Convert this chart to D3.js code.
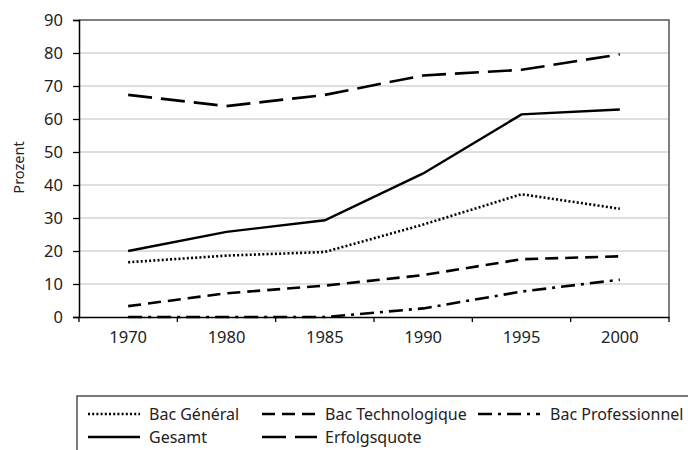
<!DOCTYPE html>
<html>
<head>
<meta charset="utf-8">
<script src="https://cdn.jsdelivr.net/npm/d3@7"></script>
<style>
  body { margin: 0; background: #fff; }
  svg { font-family: 'Noto Sans', sans-serif; }
</style>
</head>
<body>
<script>
// data
var years = ["1970", "1980", "1985", "1990", "1995", "2000"];
var bacGeneral = [16.6, 18.6, 19.7, 28.0, 37.2, 32.8];
var bacTechno = [3.3, 7.2, 9.5, 12.7, 17.5, 18.4];
var bacPro = [0, 0, 0, 2.6, 7.7, 11.3];
var gesamt = [20.0, 25.8, 29.3, 43.5, 61.4, 62.9];
var erfolg = [67.3, 63.9, 67.3, 73.2, 74.9, 79.6];
var yTicks = [0, 10, 20, 30, 40, 50, 60, 70, 80, 90];

var series = [
  { name: "Bac Général", values: bacGeneral, dash: "2,2.2", width: 2.6 },
  { name: "Bac Technologique", values: bacTechno, dash: "13,7", width: 2.6 },
  { name: "Bac Professionnel", values: bacPro, dash: "14,6,3,6", width: 2.6 },
  { name: "Gesamt", values: gesamt, dash: null, width: 2.4 },
  { name: "Erfolgsquote", values: erfolg, dash: "24,9", width: 2.6 }
];

var W = 688, H = 450;
var margin = { top: 20, right: 19, bottom: 133, left: 79 },
  width = W - margin.left - margin.right,
  height = H - margin.top - margin.bottom;

var svg = d3.select("body").append("svg")
  .attr("width", W)
  .attr("height", H);

var g = svg.append("g")
  .attr("transform", "translate(" + margin.left + "," + margin.top + ")");

var x = d3.scaleBand().domain(years).range([0, width]);
var y = d3.scaleLinear().domain([0, 90]).range([height, 0]);

// gridlines
g.selectAll("line.grid")
  .data(yTicks.filter(d => d > 0 && d < 90))
  .enter().append("line")
  .attr("class", "grid")
  .attr("x1", 0).attr("x2", width)
  .attr("y1", d => y(d)).attr("y2", d => y(d))
  .attr("stroke", "#d4d4d4")
  .attr("stroke-width", 1.3);

// plot frame (top + right)
g.append("path")
  .attr("d", "M0," + y(90) + "H" + width + "V" + height)
  .attr("fill", "none")
  .attr("stroke", "#555")
  .attr("stroke-width", 1.5);

// y axis
var yAxis = g.append("g")
  .call(d3.axisLeft(y).tickValues(yTicks).tickSize(6).tickPadding(10));
yAxis.select(".domain").attr("stroke", "#000").attr("stroke-width", 1.5);
yAxis.selectAll(".tick line").attr("stroke", "#000").attr("stroke-width", 1.3);
yAxis.selectAll("text").attr("font-size", 16.5).attr("fill", "#222")
  .attr("font-family", "'Noto Sans', sans-serif");

// x axis, ticks at band edges
var xAxis = g.append("g")
  .attr("transform", "translate(0," + height + ")")
  .call(d3.axisBottom(x).tickSize(0).tickPadding(14));
xAxis.select(".domain").attr("stroke", "#000").attr("stroke-width", 1.5);
xAxis.selectAll("text").attr("font-size", 16.5).attr("fill", "#222")
  .attr("font-family", "'Noto Sans', sans-serif");
xAxis.selectAll("line.edge")
  .data(years.concat(["end"]))
  .enter().append("line")
  .attr("class", "edge")
  .attr("x1", (d, i) => i * x.step()).attr("x2", (d, i) => i * x.step())
  .attr("y1", 0).attr("y2", 5)
  .attr("stroke", "#000").attr("stroke-width", 1.3);

// y label
svg.append("text")
  .attr("transform", "translate(24," + (margin.top + height / 2 - 1) + ") rotate(-90)")
  .attr("text-anchor", "middle")
  .attr("font-size", 14.5)
  .attr("fill", "#222")
  .text("Prozent");

// lines
var line = d3.line()
  .x((d, i) => x(years[i]) + x.bandwidth() / 2)
  .y(d => y(d));

g.selectAll("path.series")
  .data(series)
  .enter().append("path")
  .attr("class", "series")
  .attr("d", d => line(d.values))
  .attr("fill", "none")
  .attr("stroke", "#000")
  .attr("stroke-width", d => d.width)
  .attr("stroke-dasharray", d => d.dash);

// legend
var legend = svg.append("g");
legend.append("rect")
  .attr("x", 77).attr("y", 396)
  .attr("width", 620).attr("height", 70)
  .attr("fill", "none")
  .attr("stroke", "#333")
  .attr("stroke-width", 1.3);

var colX = [88, 262, 478];
var colLen = [52, 55, 62];
var colText = [61, 63, 72];
var rowY = [414, 437];
var item = legend.selectAll("g.item")
  .data(series)
  .enter().append("g")
  .attr("class", "item")
  .attr("transform", (d, i) => "translate(" + colX[i % 3] + "," + rowY[Math.floor(i / 3)] + ")");

item.append("line")
  .attr("x1", 0).attr("x2", (d, i) => colLen[i % 3])
  .attr("stroke", "#000")
  .attr("stroke-width", d => d.width)
  .attr("stroke-dasharray", d => d.dash);

item.append("text")
  .attr("x", (d, i) => colText[i % 3])
  .attr("dy", "0.35em")
  .attr("font-size", 16)
  .attr("fill", "#222")
  .text(d => d.name);
</script>
</body>
</html>
